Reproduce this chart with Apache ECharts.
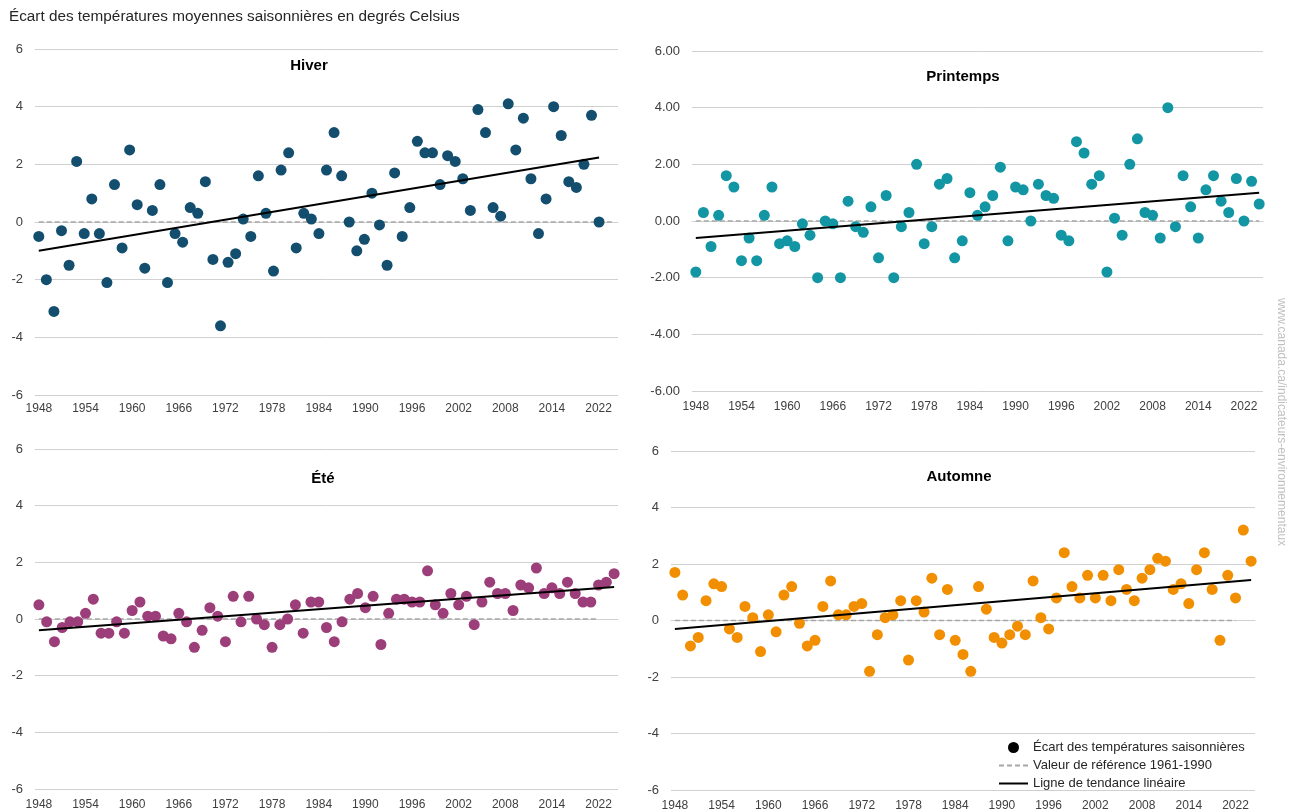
<!DOCTYPE html>
<html>
<head>
<meta charset="utf-8">
<title>Écart des températures moyennes saisonnières</title>
<script src="https://cdn.jsdelivr.net/npm/echarts@6/dist/echarts.min.js"></script>
<style>
  html, body { margin: 0; padding: 0; background: #fff; }
  #main { width: 1290px; height: 812px; }
</style>
</head>
<body>
<div id="main"></div>
<script>
var years = [];
for (var yr = 1948; yr <= 2022; yr++) years.push(String(yr));
// l'hiver est tracé sur 77 catégories (1948-2024), comme dans l'original
var yearsHiver = years.concat(['2023', '2024']);
var tickLabels = ['1948', '1954', '1960', '1966', '1972', '1978', '1984',
  '1990', '1996', '2002', '2008', '2014', '2022'];

var hiver = [
  -0.5, -2.0, -3.1, -0.3, -1.5, 2.1, -0.4, 0.8, -0.4, -2.1,
  1.3, -0.9, 2.5, 0.6, -1.6, 0.4, 1.3, -2.1, -0.4, -0.7,
  0.5, 0.3, 1.4, -1.3, -3.6, -1.4, -1.1, 0.1, -0.5, 1.6,
  0.3, -1.7, 1.8, 2.4, -0.9, 0.3, 0.1, -0.4, 1.8, 3.1,
  1.6, 0.0, -1.0, -0.6, 1.0, -0.1, -1.5, 1.7, -0.5, 0.5,
  2.8, 2.4, 2.4, 1.3, 2.3, 2.1, 1.5, 0.4, 3.9, 3.1,
  0.5, 0.2, 4.1, 2.5, 3.6, 1.5, -0.4, 0.8, 4.0, 3.0,
  1.4, 1.2, 2.0, 3.7, 0.0
];
var printemps = [
  -1.8, 0.3, -0.9, 0.2, 1.6, 1.2, -1.4, -0.6, -1.4, 0.2,
  1.2, -0.8, -0.7, -0.9, -0.1, -0.5, -2.0, 0.0, -0.1, -2.0,
  0.7, -0.2, -0.4, 0.5, -1.3, 0.9, -2.0, -0.2, 0.3, 2.0,
  -0.8, -0.2, 1.3, 1.5, -1.3, -0.7, 1.0, 0.2, 0.5, 0.9,
  1.9, -0.7, 1.2, 1.1, 0.0, 1.3, 0.9, 0.8, -0.5, -0.7,
  2.8, 2.4, 1.3, 1.6, -1.8, 0.1, -0.5, 2.0, 2.9, 0.3,
  0.2, -0.6, 4.0, -0.2, 1.6, 0.5, -0.6, 1.1, 1.6, 0.7,
  0.3, 1.5, 0.0, 1.4, 0.6
];
var ete = [
  0.5, -0.1, -0.8, -0.3, -0.1, -0.1, 0.2, 0.7, -0.5, -0.5,
  -0.1, -0.5, 0.3, 0.6, 0.1, 0.1, -0.6, -0.7, 0.2, -0.1,
  -1.0, -0.4, 0.4, 0.1, -0.8, 0.8, -0.1, 0.8, 0.0, -0.2,
  -1.0, -0.2, 0.0, 0.5, -0.5, 0.6, 0.6, -0.3, -0.8, -0.1,
  0.7, 0.9, 0.4, 0.8, -0.9, 0.2, 0.7, 0.7, 0.6, 0.6,
  1.7, 0.5, 0.2, 0.9, 0.5, 0.8, -0.2, 0.6, 1.3, 0.9,
  0.9, 0.3, 1.2, 1.1, 1.8, 0.9, 1.1, 0.9, 1.3, 0.9,
  0.6, 0.6, 1.2, 1.3, 1.6
];
var automne = [
  1.7, 0.9, -0.9, -0.6, 0.7, 1.3, 1.2, -0.3, -0.6, 0.5,
  0.1, -1.1, 0.2, -0.4, 0.9, 1.2, -0.1, -0.9, -0.7, 0.5,
  1.4, 0.2, 0.2, 0.5, 0.6, -1.8, -0.5, 0.1, 0.2, 0.7,
  -1.4, 0.7, 0.3, 1.5, -0.5, 1.1, -0.7, -1.2, -1.8, 1.2,
  0.4, -0.6, -0.8, -0.5, -0.2, -0.5, 1.4, 0.1, -0.3, 0.8,
  2.4, 1.2, 0.8, 1.6, 0.8, 1.6, 0.7, 1.8, 1.1, 0.7,
  1.5, 1.8, 2.2, 2.1, 1.1, 1.3, 0.6, 1.8, 2.4, 1.1,
  -0.7, 1.6, 0.8, 3.2, 2.1
];

// ligne de tendance : valeur en 1948 et en 2022
var trendHiver = [-1.0, 2.24];
var trendPrintemps = [-0.6, 1.0];
var trendEte = [-0.4, 1.13];
var trendAutomne = [-0.3, 1.43];
// dernière année de la ligne de référence pointillée
var refEnd = ['2024', '2022', '2020', '2020'];

var NAME_PTS = 'Écart des températures saisonnières';
var NAME_REF = 'Valeur de référence 1961-1990';
var NAME_TREND = 'Ligne de tendance linéaire';
var FONT = '"Liberation Sans", Arial, sans-serif';

var chart = echarts.init(document.getElementById('main'));

var gridColors = ['#d0d0d0', '#d0d0d0', '#d0d0d0', 'rgba(0,0,0,0)', '#d0d0d0', '#d0d0d0', '#d0d0d0'];

function xAxis(grid, cats, show, margin) {
  return {
    type: 'category', gridIndex: grid, data: cats, show: show, boundaryGap: true,
    axisLine: { show: true, lineStyle: { color: '#d0d0d0' } },
    axisTick: { show: false },
    splitLine: { show: false },
    axisLabel: {
      margin: margin, fontSize: 12, color: '#404040', fontFamily: FONT,
      interval: function (i) { return i % 6 === 0 && i / 6 < tickLabels.length; },
      formatter: function (v, i) { return tickLabels[i / 6]; }
    }
  };
}

function yAxis(grid, decimals) {
  return {
    type: 'value', gridIndex: grid, min: -6, max: 6, interval: 2,
    axisLine: { show: false }, axisTick: { show: false },
    splitLine: { show: true, lineStyle: { color: gridColors, width: 1 } },
    axisLabel: {
      margin: 12, fontSize: 13, color: '#404040', fontFamily: FONT,
      formatter: function (v) { return decimals ? v.toFixed(2) : String(v); }
    }
  };
}

function season(values, color, xi, yi, trend, endRef) {
  return [
    {
      name: NAME_REF, type: 'line', xAxisIndex: xi, yAxisIndex: yi, z: 1,
      data: [['1948', 0], [endRef, 0]], symbol: 'none', silent: true,
      itemStyle: { color: '#a6a6a6' },
      lineStyle: { color: '#a6a6a6', width: 1.5, type: [5, 3] }
    },
    {
      name: NAME_PTS, type: 'scatter', xAxisIndex: xi, yAxisIndex: yi, z: 2,
      data: values, symbolSize: 11,
      itemStyle: { color: color, opacity: 1 }
    },
    {
      name: NAME_TREND, type: 'line', xAxisIndex: xi, yAxisIndex: yi, z: 3,
      data: [['1948', trend[0]], ['2022', trend[1]]], symbol: 'none', silent: true,
      itemStyle: { color: '#000' },
      lineStyle: { color: '#000', width: 2 }
    }
  ];
}

function label(text, x, y, font, fill, align) {
  return {
    type: 'text', x: x, y: y, silent: true,
    style: {
      text: text, font: font, fill: fill,
      textAlign: align, align: align,
      textVerticalAlign: 'middle', verticalAlign: 'middle'
    }
  };
}

var hiddenSymbol = { opacity: 0, color: 'rgba(0,0,0,0)', borderWidth: 0 };

var option = {
  animation: false,
  backgroundColor: '#fff',
  textStyle: { fontFamily: FONT },
  grid: [
    { left: 35, top: 49, width: 583, height: 346 },
    { left: 692, top: 51, width: 571, height: 340 },
    { left: 35, top: 449, width: 583, height: 340 },
    { left: 671, top: 451, width: 584, height: 340 }
  ],
  xAxis: [
    xAxis(0, years, true, 8),
    xAxis(0, yearsHiver, false, 8),
    xAxis(1, years, true, 10),
    xAxis(2, years, true, 10),
    xAxis(3, years, true, 10)
  ],
  yAxis: [yAxis(0, false), yAxis(1, true), yAxis(2, false), yAxis(3, false)],
  legend: {
    orient: 'vertical', left: 993, top: 736,
    itemWidth: 29, itemHeight: 11, itemGap: 5,
    textStyle: { fontSize: 13, color: '#262626', fontFamily: FONT },
    data: [
      { name: NAME_PTS, icon: 'circle', itemStyle: { color: '#000' } },
      { name: NAME_REF, itemStyle: hiddenSymbol },
      { name: NAME_TREND, itemStyle: hiddenSymbol }
    ]
  },
  graphic: [
    label('Écart des températures moyennes saisonnières en degrés Celsius', 9, 17, '15.3px ' + FONT, '#262626', 'left'),
    label('Hiver', 309, 66, 'bold 15px ' + FONT, '#000', 'center'),
    label('Printemps', 963, 77, 'bold 15px ' + FONT, '#000', 'center'),
    label('Été', 323, 479, 'bold 15px ' + FONT, '#000', 'center'),
    label('Automne', 959, 477, 'bold 15px ' + FONT, '#000', 'center'),
    {
      type: 'text', x: 1281, y: 422, rotation: -Math.PI / 2, silent: true,
      style: {
        text: 'www.canada.ca/indicateurs-environnementaux', font: '12px ' + FONT,
        fill: '#c0c0c0', textAlign: 'center', align: 'center',
        textVerticalAlign: 'middle', verticalAlign: 'middle'
      }
    }
  ],
  series: [].concat(
    season(hiver, '#134e6f', 1, 0, trendHiver, refEnd[0]),
    season(printemps, '#1396a4', 2, 1, trendPrintemps, refEnd[1]),
    season(ete, '#9c3e79', 3, 2, trendEte, refEnd[2]),
    season(automne, '#f18f00', 4, 3, trendAutomne, refEnd[3])
  )
};

chart.setOption(option);
</script>
</body>
</html>
